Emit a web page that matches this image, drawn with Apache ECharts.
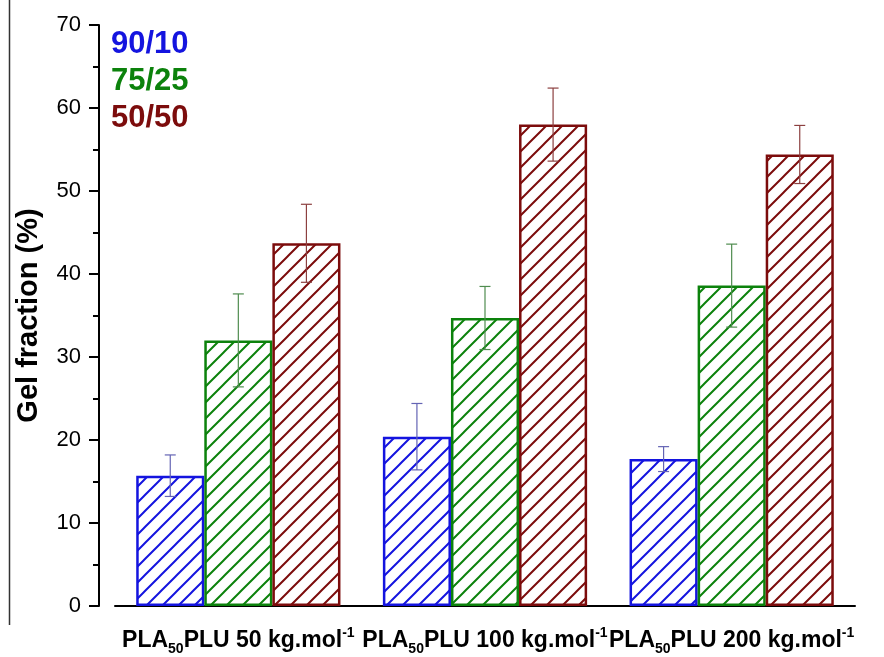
<!DOCTYPE html>
<html>
<head>
<meta charset="utf-8">
<script src="https://cdn.jsdelivr.net/npm/echarts@6/dist/echarts.min.js"></script>
<style>
  html, body { margin: 0; padding: 0; background: #fff; }
  #chart { width: 884px; height: 657px; }
</style>
</head>
<body>
<div id="chart"></div>
<script>
// Gel fraction of PLA50PLU networks for three blend ratios
const categories = ['50', '100', '200'];           // PLU molar mass, kg/mol
const seriesNames = ['90/10', '75/25', '50/50'];
const gel9010 = [15.7, 20.4, 17.7];
const gel7525 = [32.0, 34.7, 38.6];
const gel5050 = [43.7, 58.0, 54.4];
const err9010 = [2.5, 4.0, 1.5];
const err7525 = [5.6, 3.8, 5.0];
const err5050 = [4.7, 4.4, 3.5];
const yTicks = [0, 10, 20, 30, 40, 50, 60, 70];

const barColors = ['#1414df', '#0c820c', '#7c0c0c'];
const errColors = ['#6464b4', '#4f8c4f', '#8c4040'];

// diagonal "/" hatch tile
function hatch(color) {
  const s = 16;
  const c = document.createElement('canvas');
  c.width = s; c.height = s;
  const g = c.getContext('2d');
  g.strokeStyle = color;
  g.lineWidth = 2;
  g.beginPath();
  g.moveTo(-2, s + 2); g.lineTo(s + 2, -2);
  g.moveTo(-2, 2); g.lineTo(2, -2);
  g.moveTo(s - 2, s + 2); g.lineTo(s + 2, s - 2);
  g.stroke();
  return c;
}

const values = [gel9010, gel7525, gel5050];
const errors = [err9010, err7525, err5050];
const BAR_FRAC = 0.276;

const barSeries = values.map((v, i) => ({
  name: seriesNames[i],
  type: 'bar',
  data: v,
  barWidth: (BAR_FRAC * 100) + '%',
  barGap: '0%',
  itemStyle: {
    color: { image: hatch(barColors[i]), repeat: 'repeat' },
    borderColor: barColors[i],
    borderWidth: 2.5
  },
  emphasis: { disabled: true },
  z: 2
}));

const errSeries = values.map((v, i) => ({
  type: 'custom',
  name: seriesNames[i] + ' err',
  data: v.map((val, k) => [k, val, errors[i][k]]),
  z: 5,
  renderItem: function (params, api) {
    const band = api.size([1, 0])[0];
    const w = band * BAR_FRAC;
    const dx = (i - 1) * w;
    const val = api.value(1), e = api.value(2);
    const top = api.coord([api.value(0), val + e]);
    const bot = api.coord([api.value(0), val - e]);
    const x = top[0] + dx;
    const cap = 5.5;
    const st = { stroke: errColors[i], lineWidth: 1.2 };
    return {
      type: 'group',
      children: [
        { type: 'line', shape: { x1: x, y1: top[1], x2: x, y2: bot[1] }, style: st },
        { type: 'line', shape: { x1: x - cap, y1: top[1], x2: x + cap, y2: top[1] }, style: st },
        { type: 'line', shape: { x1: x - cap, y1: bot[1], x2: x + cap, y2: bot[1] }, style: st }
      ]
    };
  }
}));

const chart = echarts.init(document.getElementById('chart'), null, { renderer: 'canvas' });
chart.setOption({
  animation: false,
  backgroundColor: '#fff',
  textStyle: { fontFamily: 'Liberation Sans, Arial, sans-serif' },
  grid: { left: 115, right: 29, top: 25, bottom: 51 },
  legend: {
    orient: 'vertical',
    left: 104,
    top: 28,
    padding: 0,
    itemGap: 5,
    itemWidth: 1,
    itemHeight: 1,
    icon: 'rect',
    itemStyle: { opacity: 0 },
    selectedMode: false,
    data: seriesNames.map((n, i) => ({
      name: n,
      textStyle: { color: barColors[i], fontSize: 31, fontWeight: 'bold', lineHeight: 32 }
    }))
  },
  xAxis: {
    type: 'category',
    data: categories,
    axisLine: { lineStyle: { color: '#000', width: 2 } },
    axisTick: { show: false },
    axisLabel: {
      margin: 20,
      interval: 0,
      formatter: v => '{b|PLA}{s|50}{b|PLU ' + v + ' kg.mol}{p|-1}',
      rich: {
        b: { fontSize: 23, fontWeight: 'bold', color: '#000', lineHeight: 30 },
        s: { fontSize: 14, fontWeight: 'bold', color: '#000', lineHeight: 14, verticalAlign: 'bottom' },
        p: { fontSize: 14, fontWeight: 'bold', color: '#000', lineHeight: 14, verticalAlign: 'top' }
      }
    }
  },
  yAxis: {
    type: 'value',
    min: yTicks[0],
    max: yTicks[yTicks.length - 1],
    interval: 10,
    offset: 16,
    name: 'Gel fraction (%)',
    nameLocation: 'middle',
    nameGap: 56,
    nameTextStyle: { fontSize: 29, fontWeight: 'bold', color: '#000' },
    axisLine: { show: true, lineStyle: { color: '#000', width: 2 } },
    axisTick: { show: true, inside: false, length: 10, lineStyle: { color: '#000', width: 2 } },
    minorTick: { show: true, splitNumber: 2, length: 6, lineStyle: { color: '#000', width: 2 } },
    splitLine: { show: false },
    axisLabel: { fontSize: 22, color: '#000', margin: 18 }
  },
  graphic: [
    { type: 'line', shape: { x1: 9.5, y1: 0, x2: 9.5, y2: 625 }, style: { stroke: '#333', lineWidth: 1.5 }, silent: true }
  ],
  series: barSeries.concat(errSeries)
});
</script>
</body>
</html>
